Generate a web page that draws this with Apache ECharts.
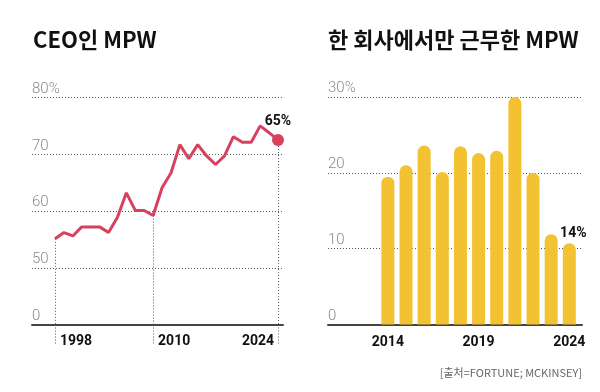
<!DOCTYPE html>
<html><head><meta charset="utf-8">
<script src="https://cdn.jsdelivr.net/npm/echarts@6/dist/echarts.min.js"></script>
<style>html,body{margin:0;padding:0;background:#fff}#c{width:600px;height:392px}</style>
</head><body><div id="c"></div>
<script>
// ---- data ----
const leftTitle = 'CEO인 MPW';
const rightTitle = '한 회사에서만 근무한 MPW';
const sourceText = '[출처=FORTUNE; MCKINSEY]';

const ceoYears = ['1998','1999','2000','2001','2002','2003','2004','2005','2006','2007','2008',
  '2010','2011','2012','2013','2014','2015','2016','2017','2018','2019','2020','2021','2022','2023','2024'];
const ceoShare = [55.1,56.2,55.6,57.2,57.2,57.2,56.2,58.9,63.2,60.1,60.1,
  59.2,64.1,66.7,71.7,69.2,71.7,69.7,68.2,69.7,73.1,72.1,72.1,75.0,73.8,72.5];
const ceoLabelYears = ['1998','2010','2024'];
const ceoEndLabel = '65%';
const leftYTicks = [40,50,60,70,80];
const leftYTickLabels = ['0','50','60','70','80%'];

const oneCoYears = [2014,2015,2016,2017,2018,2019,2020,2021,2022,2023,2024];
const oneCoShare = [19.5,21.0,23.6,20.1,23.5,22.6,22.9,30.4,20.0,11.9,10.7];
const oneCoLabelYears = [2014,2019,2024];
const oneCoEndLabel = '14%';
const rightYTicks = [0,10,20,30];
const rightYTickLabels = ['0','10','20','30%'];

// ---- chart ----
const RED = '#d8415e', YEL = '#f2c232', GRID = '#555', LBL = '#8c8c8c';
const labelIdx = ceoLabelYears.map(y => ceoYears.indexOf(y));
const lineData = ceoShare.map((v, i) => [i, v]);
const lastI = ceoShare.length - 1;

const barData = oneCoShare.map((v, i) => {
  const d = { value: [oneCoYears[i], v] };
  if (i === oneCoShare.length - 1) {
    d.label = { show: true, position: 'top', distance: 3, offset: [4, 0],
      formatter: oneCoEndLabel, color: '#111', fontSize: 14, fontWeight: 'bold', fontFamily: 'Roboto' };
  }
  return d;
});

const yLabelCommon = {
  inside: true, margin: 0, verticalAlign: 'bottom', align: 'left',
  color: LBL, fontSize: 15, fontFamily: 'Roboto', fontWeight: 300, padding: [0, 0, 1, 0]
};
const titleStyle = { fontFamily: 'Noto Sans CJK KR', fontSize: 22, fontWeight: 'bold', color: '#111' };

const chart = echarts.init(document.getElementById('c'), null, { renderer: 'canvas' });
chart.setOption({
  animation: false,
  backgroundColor: '#fff',
  title: [
    { text: leftTitle, left: 28, top: 24, textStyle: titleStyle },
    { text: rightTitle, left: 323, top: 24, textStyle: titleStyle },
    { text: sourceText, right: 13, top: 362, textStyle: { fontFamily: 'Noto Sans CJK KR', fontSize: 11, fontWeight: 'normal', color: '#666' } }
  ],
  grid: [
    { left: 32, right: 317, top: 97.5, bottom: 67.5 },
    { left: 328, right: 18, top: 97, bottom: 67.5 }
  ],
  xAxis: [
    {
      gridIndex: 0, type: 'value', min: -2.58, max: 25.56,
      splitLine: { show: false },
      axisLine: { show: true, onZero: false, lineStyle: { color: '#444', width: 2 } },
      axisTick: { show: true, customValues: labelIdx, length: 20, inside: false,
        lineStyle: { color: GRID, type: [1, 2], width: 1 } },
      axisLabel: {
        customValues: labelIdx, margin: 10,
        formatter: v => (v === lastI ? '{r|' + ceoYears[v] + '}' : '{l|' + ceoYears[v] + '}'),
        rich: {
          l: { padding: [0, 0, 0, 42], fontSize: 14, fontWeight: 'bold', color: '#111', fontFamily: 'Roboto' },
          r: { padding: [0, 40, 0, 0], fontSize: 14, fontWeight: 'bold', color: '#111', fontFamily: 'Roboto' }
        }
      }
    },
    {
      gridIndex: 1, type: 'value', min: 2010.7, max: 2024.7,
      splitLine: { show: false },
      axisLine: { show: true, onZero: false, lineStyle: { color: '#444', width: 2 } },
      axisTick: { show: false },
      axisLabel: { customValues: oneCoLabelYears, margin: 11, formatter: v => String(v),
        fontSize: 14, fontWeight: 'bold', color: '#111', fontFamily: 'Roboto' }
    }
  ],
  yAxis: [
    {
      gridIndex: 0, type: 'value', min: 40, max: 80, interval: 10,
      axisLine: { show: false }, axisTick: { show: false },
      splitLine: { show: true, lineStyle: { color: GRID, type: [1, 2], width: 1 } },
      axisLabel: Object.assign({}, yLabelCommon, {
        formatter: v => leftYTickLabels[leftYTicks.indexOf(v)]
      })
    },
    {
      gridIndex: 1, type: 'value', min: 0, max: 30, interval: 10,
      axisLine: { show: false }, axisTick: { show: false },
      splitLine: { show: true, lineStyle: { color: GRID, type: [1, 2], width: 1 } },
      axisLabel: Object.assign({}, yLabelCommon, {
        formatter: v => rightYTickLabels[rightYTicks.indexOf(v)]
      })
    }
  ],
  series: [
    {
      type: 'line', xAxisIndex: 0, yAxisIndex: 0, data: lineData,
      lineStyle: { color: RED, width: 3 }, itemStyle: { color: RED },
      symbol: 'circle', showAllSymbol: true,
      symbolSize: (v, p) => (p.dataIndex === lastI ? 12 : 0),
      label: {
        show: true, position: 'top', distance: 6,
        formatter: p => (p.dataIndex === lastI ? ceoEndLabel : ''),
        color: '#111', fontSize: 14, fontWeight: 'bold', fontFamily: 'Roboto'
      },
      z: 5,
      markLine: {
        silent: true, symbol: 'none', label: { show: false },
        lineStyle: { color: GRID, type: [1, 2], width: 1 },
        data: labelIdx.map(i => [{ coord: [i, ceoShare[i]] }, { coord: [i, leftYTicks[0]] }])
      }
    },
    {
      type: 'bar', xAxisIndex: 1, yAxisIndex: 1, data: barData,
      barWidth: 13, itemStyle: { color: YEL, borderRadius: [6.5, 6.5, 0, 0] }
    }
  ]
});
</script>
</body></html>
